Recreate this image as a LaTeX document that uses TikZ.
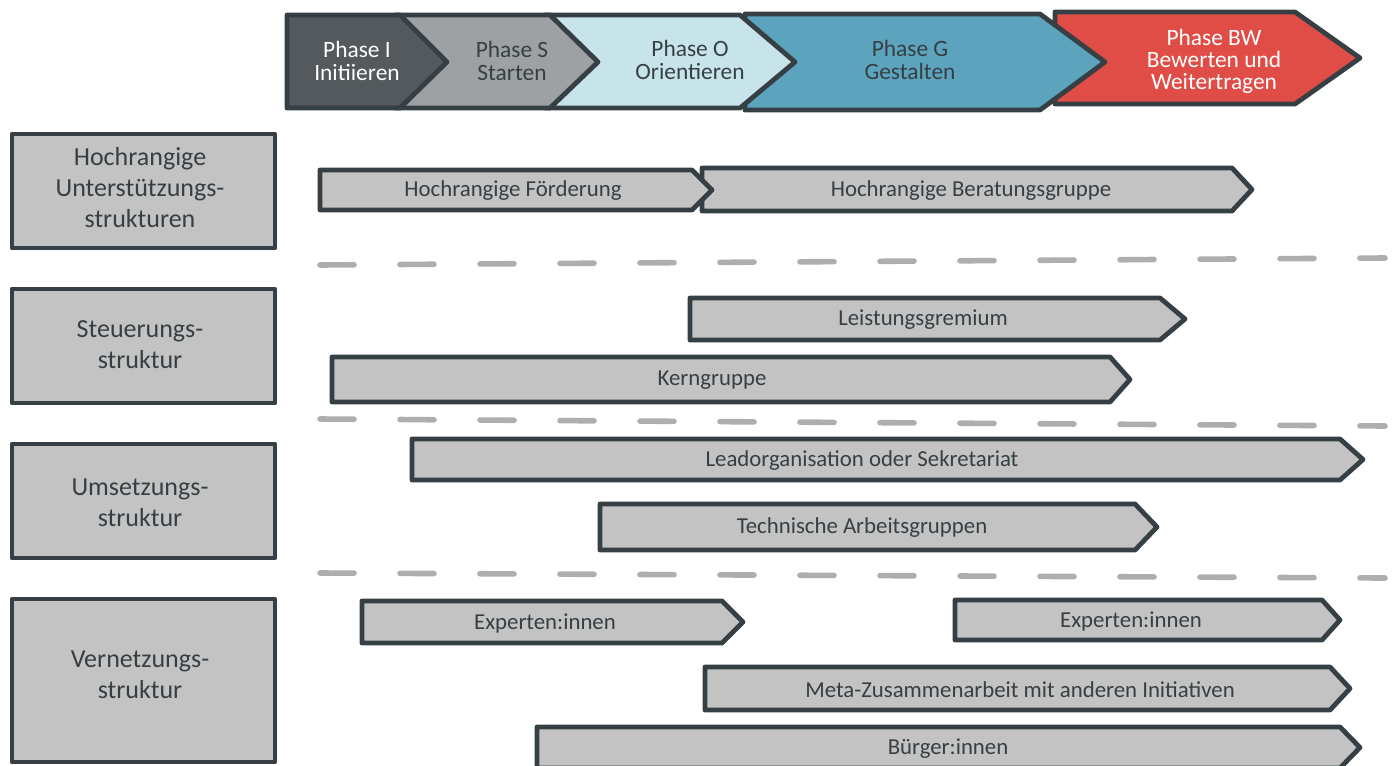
\documentclass[tikz,border=0pt]{standalone}
\usepackage{fontspec}
\setmainfont{Carlito}
\definecolor{ink}{HTML}{363F43}
\definecolor{barfill}{HTML}{C3C3C3}
\definecolor{dashgray}{HTML}{AEAEAE}
\definecolor{phI}{HTML}{53595C}
\definecolor{phS}{HTML}{9DA1A4}
\definecolor{phO}{HTML}{C8E4EB}
\definecolor{phG}{HTML}{5CA3BD}
\definecolor{phBW}{HTML}{E04D46}
\newcommand{\mybarshape}[9]{%
  % #1 x1, #2 xr, #3 xp, #4 y1, #5 y2, #6 text x, #7 name, #8 text, #9 fill
  \draw[outl, fill=#9] (#1,#4) -- (#2,#4) -- (#3,{(#4+#5)/2}) -- (#2,#5) -- (#1,#5) -- cycle;
  \node[bartext] (#7) at (#6,{(#4+#5)/2+1}) {#8};
}
\begin{document}
\begin{tikzpicture}[x=0.5pt,y=-0.5pt,
  outl/.style={draw=ink, line width=2.4pt, line join=round, line cap=round},
  bartext/.style={text=ink, font=\fontsize{11.4}{12}\selectfont, inner sep=0pt},
  phasetext/.style={font=\fontsize{11.7}{11.5}\selectfont, align=center, inner sep=0pt},
  lefttext/.style={text=ink, font=\fontsize{13}{15.5}\selectfont, align=center, inner sep=0pt},
  sep/.style={draw=dashgray, line width=2.8pt, line cap=round, dash pattern=on 17pt off 23pt}]
\useasboundingbox (0,0) rectangle (1395,765);

% ---- phase chevrons (right to left so each overlaps the next)
\draw[outl, fill=phBW] (1055,12) -- (1295,12) -- (1360,58) -- (1295,104) -- (1055,104) -- cycle;
\draw[outl, fill=phG] (745,14) -- (1040,14) -- (1105,62) -- (1040,110) -- (745,110) -- cycle;
\draw[outl, fill=phO] (545,15) -- (740,15) -- (795,62) -- (740,108) -- (545,108) -- cycle;
\draw[outl, fill=phS] (395,15) -- (550,15) -- (598,62) -- (550,108) -- (395,108) -- cycle;
\draw[outl, fill=phI] (287,15) -- (400,15) -- (447,62) -- (400,108) -- (287,108) -- cycle;
\node[phasetext, text=white] (pI) at (357,61) {Phase I\\Initiieren};
\node[phasetext, text=ink] (pS) at (512,61) {Phase S\\Starten};
\node[phasetext, text=ink] (pO) at (690,60) {Phase O\\Orientieren};
\node[phasetext, text=ink] (pG) at (910,60) {Phase G\\Gestalten};
\node[phasetext, text=white, font=\fontsize{11.7}{11}\selectfont] (pBW) at (1214,61) {Phase BW\\Bewerten und\\Weitertragen};

% ---- left category boxes
\draw[outl, fill=barfill] (12,134) rectangle (275,248);
\node[lefttext] (l1) at (140,188) {Hochrangige\\Unterstützungs-\\strukturen};
\draw[outl, fill=barfill] (12,289) rectangle (275,403);
\node[lefttext] (l2) at (140,345) {Steuerungs-\\struktur};
\draw[outl, fill=barfill] (12,444) rectangle (275,558);
\node[lefttext] (l3) at (140,503) {Umsetzungs-\\struktur};
\draw[outl, fill=barfill] (12,599) rectangle (275,762);
\node[lefttext] (l4) at (140,675) {Vernetzungs-\\struktur};

% ---- dashed separators
\draw[sep] (320,265) -- (1385,258);
\draw[sep] (320,419) -- (1385,426);
\draw[sep] (320,573) -- (1385,578);

% ---- bars
\mybarshape{702}{1232}{1252}{168}{211}{971}{b2}{Hochrangige Beratungsgruppe}{barfill}
\mybarshape{320}{692}{712}{170}{210}{513}{b1}{Hochrangige Förderung}{barfill}
\mybarshape{690}{1160}{1185}{298}{340}{923}{b3}{Leistungsgremium}{barfill}
\mybarshape{332}{1110}{1130}{357}{402}{712}{b4}{Kerngruppe}{barfill}
\mybarshape{412}{1340}{1363}{439}{480}{862}{b5}{Leadorganisation oder Sekretariat}{barfill}
\mybarshape{600}{1135}{1157}{504}{550}{862}{b6}{Technische Arbeitsgruppen}{barfill}
\mybarshape{362}{722}{743}{601}{643}{545}{b7}{Experten:innen}{barfill}
\mybarshape{955}{1322}{1340}{600}{640}{1131}{b8}{Experten:innen}{barfill}
\mybarshape{705}{1330}{1350}{667}{710}{1020}{b9}{Meta-Zusammenarbeit mit anderen Initiativen}{barfill}
\mybarshape{537}{1340}{1360}{727}{768}{948}{b10}{Bürger:innen}{barfill}
\end{tikzpicture}
\end{document}
